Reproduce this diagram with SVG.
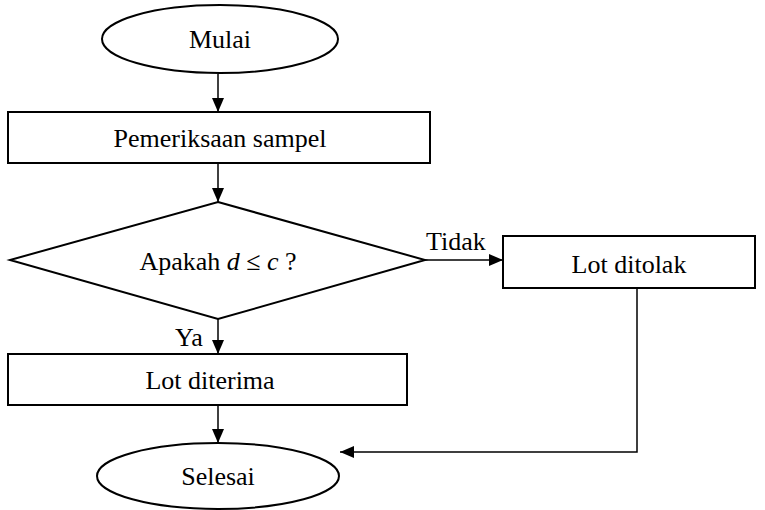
<svg xmlns="http://www.w3.org/2000/svg" width="765" height="510" viewBox="0 0 765 510" font-family="'Liberation Serif', 'DejaVu Serif', serif">
  <style>
    .shape { fill: #fff; stroke: #000; stroke-width: 2; }
    .edge { fill: none; stroke: #000; stroke-width: 1.5; }
    .t { font-family: 'Liberation Serif', 'DejaVu Serif', serif; font-size: 26px; fill: #000; }
    .c { text-anchor: middle; }
  </style>
  <defs>
    <marker id="arrow" viewBox="0 0 14 12" refX="14" refY="6" markerWidth="14" markerHeight="12" markerUnits="userSpaceOnUse" orient="auto">
      <path d="M0,0 L14,6 L0,12 Z" fill="#000"/>
    </marker>
  </defs>
  <rect width="765" height="510" fill="#fff"/>

  <g id="connectors">
    <line class="edge" x1="218" y1="74" x2="218" y2="112" marker-end="url(#arrow)"/>
    <line class="edge" x1="218" y1="163" x2="218" y2="202" marker-end="url(#arrow)"/>
    <line class="edge" x1="425" y1="260" x2="503" y2="260" marker-end="url(#arrow)"/>
    <line class="edge" x1="218" y1="319" x2="218" y2="354" marker-end="url(#arrow)"/>
    <line class="edge" x1="218" y1="405" x2="218" y2="443" marker-end="url(#arrow)"/>
    <polyline class="edge" points="637,288 637,452 340,452" marker-end="url(#arrow)"/>
    <text class="t" x="426" y="250">Tidak</text>
    <text class="t" x="175" y="346">Ya</text>
  </g>

  <g id="mulai">
    <ellipse class="shape" cx="220" cy="39" rx="118" ry="34"/>
    <text class="t c" x="220" y="48">Mulai</text>
  </g>

  <g id="pemeriksaan">
    <rect class="shape" x="8" y="112" width="422" height="51"/>
    <text class="t c" x="220" y="147">Pemeriksaan sampel</text>
  </g>

  <g id="keputusan">
    <polygon class="shape" points="218,202 425,260 218,319 10,260"/>
    <text class="t c" x="218" y="270">Apakah <tspan font-style="italic">d</tspan> ≤ <tspan font-style="italic">c</tspan> ?</text>
  </g>

  <g id="ditolak">
    <rect class="shape" x="503" y="236" width="252" height="52"/>
    <text class="t c" x="629" y="273">Lot ditolak</text>
  </g>

  <g id="diterima">
    <rect class="shape" x="8" y="354" width="399" height="51"/>
    <text class="t c" x="210" y="389">Lot diterima</text>
  </g>

  <g id="selesai">
    <ellipse class="shape" cx="218" cy="476" rx="121" ry="33"/>
    <text class="t c" x="218" y="485">Selesai</text>
  </g>
</svg>
